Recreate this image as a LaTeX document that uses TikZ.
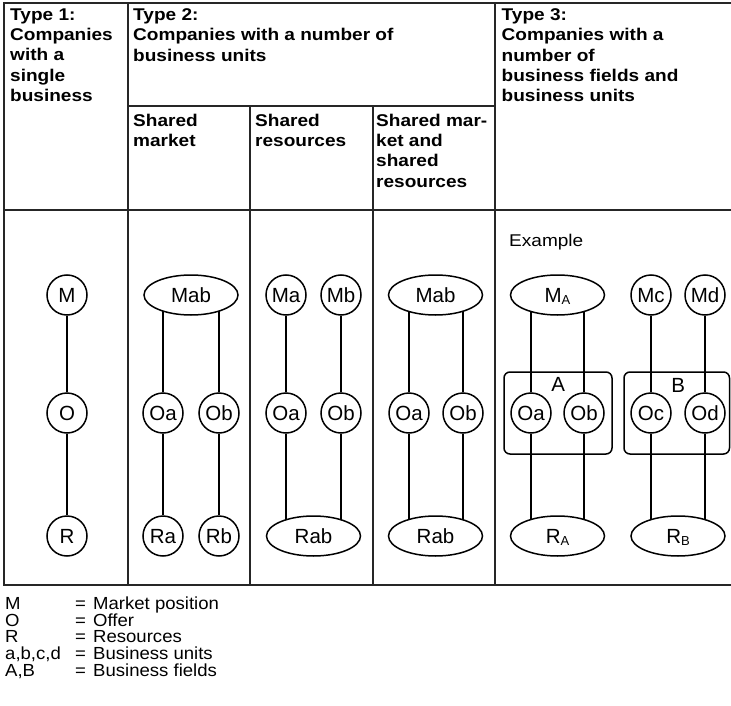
\documentclass[tikz,border=0pt]{standalone}
\usepackage{fontspec}
\setmainfont{Liberation Sans}
\newfontfamily\widefont[FakeStretch=1.12]{Liberation Sans}
\newfontfamily\legfont[FakeStretch=1.06]{Liberation Sans}
\usetikzlibrary{shapes.geometric,backgrounds}

\newcommand{\subl}[1]{\raisebox{-2pt}{\fontsize{13}{13}\selectfont #1}}

\begin{document}
\begin{tikzpicture}[x=1pt,y=-1pt,
  grid/.style={line width=2pt, line cap=rect, draw=black!85},
  head/.style={anchor=north west, inner sep=0pt, align=left,
    font=\widefont\bfseries\fontsize{17}{20.25}\selectfont},
  nodefont/.style={font=\fontsize{20.5}{21}\selectfont},
  unit/.style={circle, draw, line width=1.5pt, fill=white, minimum size=40pt,
    inner sep=0pt, text height=15pt, text depth=0pt, nodefont},
  pool/.style={ellipse, draw, line width=1.5pt, fill=white, minimum width=94pt,
    minimum height=40pt, inner sep=0pt, text height=15pt, text depth=0pt, nodefont},
  link/.style={line width=1.8pt},
  field/.style={draw, line width=1.5pt, rounded corners=6pt},
  note/.style={anchor=base west, inner sep=0pt,
    font=\widefont\fontsize{17}{17}\selectfont},
  legend/.style={anchor=base west, inner sep=0pt,
    font=\legfont\fontsize{17.5}{17.5}\selectfont}
]
\useasboundingbox (0,0) rectangle (731,706);

% table frame
\draw[grid] (4,3) -- (731,3);
\draw[grid] (731,585) -- (4,585) -- (4,3);
\draw[grid] (4,210) -- (731,210);
\draw[grid] (128,3) -- (128,585);
\draw[grid] (495,3) -- (495,585);
\draw[grid] (128,106) -- (495,106);
\draw[grid] (250,106) -- (250,585);
\draw[grid] (373,106) -- (373,585);

% column headings
\node[head] (t1) at (10,8.5) {Type 1:\\Companies\\with a\\single\\business};
\node[head] (t2) at (133,8.5) {Type 2:\\Companies with a number of\\business units};
\node[head] (t3) at (501.5,8.5) {Type 3:\\Companies with a\\number of\\business fields and\\business units};
\node[head] (s1) at (133,113.8) {Shared\\market};
\node[head] (s2) at (255,113.8) {Shared\\resources};
\node[head] (s3) at (376,113.8) {Shared mar-\\ket and\\shared\\resources};

% type 1
\node[unit] (M1) at (67,295) {M};
\node[unit] (O1) at (67,413) {O};
\node[unit] (R1) at (67,536) {R};

% type 2: shared market
\node[pool] (Mab2) at (191,295) {Mab};
\node[unit] (Oa2) at (163,413) {Oa};
\node[unit] (Ob2) at (219,413) {Ob};
\node[unit] (Ra2) at (163,536) {Ra};
\node[unit] (Rb2) at (219,536) {Rb};

% type 2: shared resources
\node[unit] (Ma3) at (286,295) {Ma};
\node[unit] (Mb3) at (341,295) {Mb};
\node[unit] (Oa3) at (286,413) {Oa};
\node[unit] (Ob3) at (341,413) {Ob};
\node[pool] (Rab3) at (313.5,536) {Rab};

% type 2: shared market and shared resources
\node[pool] (Mab4) at (435.5,295) {Mab};
\node[unit] (Oa4) at (409,413) {Oa};
\node[unit] (Ob4) at (463,413) {Ob};
\node[pool] (Rab4) at (435.5,536) {Rab};

% type 3
\node[note] (ex) at (509,246.5) {Example};
\draw[field] (504,372) rectangle (612,454);
\draw[field] (624,372) rectangle (729.5,454);
\node[nodefont, inner sep=0pt] (fA) at (558.3,384) {A};
\node[nodefont, inner sep=0pt] (fB) at (678.3,385) {B};
\node[pool] (MA) at (557.5,295) {M\subl{A}};
\node[unit] (Oa5) at (531,413) {Oa};
\node[unit] (Ob5) at (584,413) {Ob};
\node[pool] (RA) at (557.5,536) {R\subl{A}};
\node[unit] (Mc) at (651,295) {Mc};
\node[unit] (Md) at (705,295) {Md};
\node[unit] (Oc) at (651,413) {Oc};
\node[unit] (Od) at (705,413) {Od};
\node[pool] (RB) at (678,536) {R\subl{B}};

% connectors, kept behind the white-filled nodes
\begin{pgfonlayer}{background}
  \draw[link] (M1) -- (O1) (O1) -- (R1);
  \draw[link] (Oa2) -- (Oa2 |- Mab2) (Ob2) -- (Ob2 |- Mab2)
              (Oa2) -- (Ra2) (Ob2) -- (Rb2);
  \draw[link] (Ma3) -- (Oa3) (Mb3) -- (Ob3)
              (Oa3) -- (Oa3 |- Rab3) (Ob3) -- (Ob3 |- Rab3);
  \draw[link] (Oa4) -- (Oa4 |- Mab4) (Ob4) -- (Ob4 |- Mab4)
              (Oa4) -- (Oa4 |- Rab4) (Ob4) -- (Ob4 |- Rab4);
  \draw[link] (Oa5) -- (Oa5 |- MA) (Ob5) -- (Ob5 |- MA)
              (Oa5) -- (Oa5 |- RA) (Ob5) -- (Ob5 |- RA);
  \draw[link] (Mc) -- (Oc) (Md) -- (Od)
              (Oc) -- (Oc |- RB) (Od) -- (Od |- RB);
\end{pgfonlayer}

% legend
\foreach \key/\txt [count=\i] in {M/Market position, O/Offer, R/Resources,
    {a,b,c,d}/Business units, {A,B}/Business fields} {
  \node[legend] (k\i) at (5,592.6+16.7*\i) {\key};
  \node[legend] (e\i) at (75,592.6+16.7*\i) {=};
  \node[legend] (d\i) at (93,592.6+16.7*\i) {\txt};
}
\end{tikzpicture}
\end{document}
